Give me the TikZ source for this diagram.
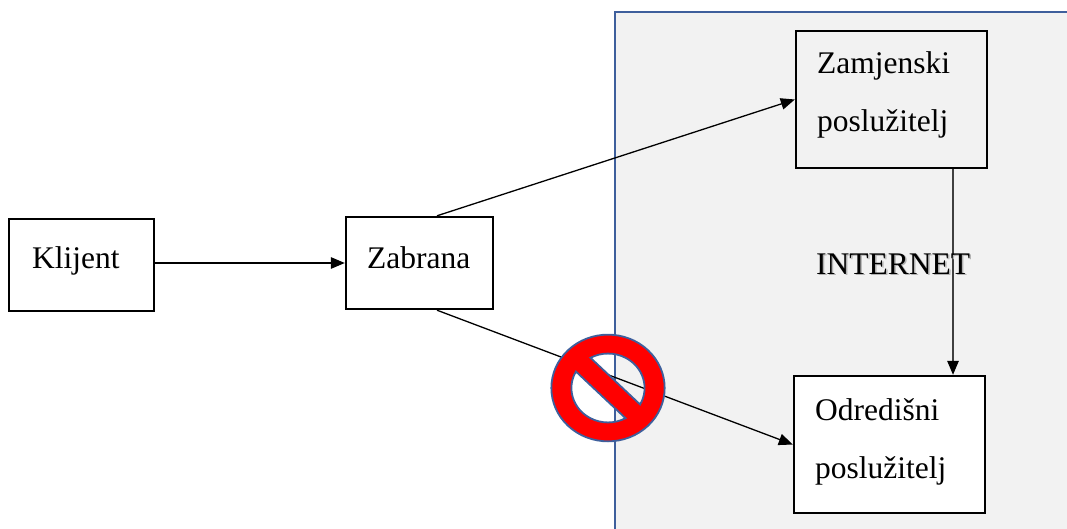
\documentclass[tikz,border=0pt]{standalone}
\usepackage{fontspec}
\setmainfont{Liberation Serif}
\usetikzlibrary{arrows.meta}
\definecolor{panelgray}{HTML}{F2F2F2}
\definecolor{edgeblue}{HTML}{3E5F9C}
\definecolor{signred}{HTML}{FF0000}
\begin{document}
\begin{tikzpicture}[x=1pt,y=1pt,
  box/.style={draw=black,line width=2.4pt,inner sep=0pt},
  txt/.style={anchor=base west,inner sep=0pt,font=\fontsize{31.5}{38}\selectfont},
  conn/.style={line width=1.3pt,-{Triangle[length=14pt,width=11.5pt,color=black]}}]
\useasboundingbox (0,0) rectangle (1067,528);
\clip (0,0) rectangle (1067,528);
% panel
\filldraw[fill=panelgray,draw=edgeblue,line width=2pt] (615,-20) rectangle (1100,516);
% boxes
\node[box,fill=white,minimum width=145pt,minimum height=92pt] (klijent) at (81.5,263) {};
\node[box,fill=white,minimum width=147pt,minimum height=92pt] (zabrana) at (419.5,265) {};
\node[box,fill=panelgray,minimum width=191pt,minimum height=137pt] (zamjenski) at (891.5,428.5) {};
\node[box,fill=white,minimum width=191pt,minimum height=137pt] (odredisni) at (889.5,83.5) {};
% texts
\node[txt] (tklijent) at (32,260) {Klijent};
\node[txt] (tzabrana) at (367,260) {Zabrana};
\node[txt] (tzam1) at (817,454) {Zamjenski};
\node[txt] (tzam2) at (817,396) {poslužitelj};
\node[txt] (todr1) at (815,108) {Odredišni};
\node[txt] (todr2) at (815,50) {poslužitelj};
% connectors
\draw[conn] (zabrana.west -| klijent.east) -- (zabrana.west);
\draw[conn] ([xshift=17.5pt]zabrana.north) -- (zamjenski.west);
\draw[conn] ([xshift=17.5pt]zabrana.south) -- (odredisni.west);
\coordinate (vtop) at ([xshift=61.5pt]zamjenski.south);
\draw[conn,draw=black!75] (vtop) -- (vtop |- odredisni.north);
% INTERNET label with shadow
\node[txt,text=black!30] (internetshadow) at (817.5,252.5) {INTERNET};
\node[txt] (internet) at (816,254) {INTERNET};
% prohibition sign
\begin{scope}[shift={(608,140)},xscale=1.03,yscale=0.97,rotate=-45]
\filldraw[fill=signred,draw=edgeblue,line width=1.8pt,even odd rule]
  (0,0) circle[radius=55]
  (16.36:35.5) arc[start angle=16.36,end angle=163.64,radius=35.5] -- cycle
  (196.36:35.5) arc[start angle=196.36,end angle=343.64,radius=35.5] -- cycle;
\end{scope}
\end{tikzpicture}
\end{document}
